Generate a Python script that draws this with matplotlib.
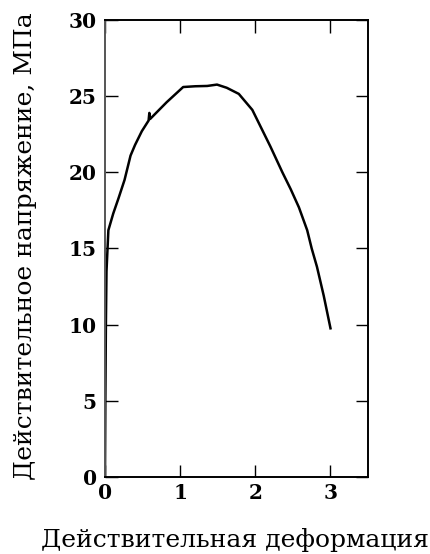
import numpy as np
import matplotlib.pyplot as plt

# true strain / true stress
deformacao = [0.0, 0.005, 0.012, 0.02, 0.045, 0.11, 0.18, 0.26, 0.30, 0.34, 0.40, 0.44, 0.49,
              0.58, 0.59, 0.60, 0.70, 0.82, 0.93, 1.04, 1.2, 1.36, 1.49, 1.62, 1.78,
              1.96, 2.08, 2.2, 2.36, 2.47, 2.58, 2.69, 2.75, 2.82, 2.91, 3.0]
tensao = [0.0, 5.0, 10.0, 13.5, 16.2, 17.3, 18.3, 19.5, 20.3, 21.1, 21.8, 22.2, 22.7,
          23.4, 23.9, 23.5, 24.0, 24.6, 25.1, 25.6, 25.65, 25.67, 25.76, 25.55, 25.15,
          24.1, 22.9, 21.7, 20.0, 18.9, 17.7, 16.2, 15.0, 13.8, 11.9, 9.76]

xticks = [0, 1, 2, 3]
yticks = [0, 5, 10, 15, 20, 25, 30]

plt.rcParams['font.family'] = ['DejaVu Serif']

fig = plt.figure(figsize=(4.31, 5.54), dpi=100)
ax = fig.add_axes([0.2436, 0.139, 0.6104, 0.8249])

ax.plot(deformacao, tensao, color='black', lw=1.8, solid_joinstyle='round')

ax.set_xlim(0, 3.5)
ax.set_ylim(0, 30)
ax.set_xticks(xticks)
ax.set_yticks(yticks)
ax.tick_params(direction='in', length=9, width=1.0, top=True, right=True,
               labelsize=14.5, pad=4)
ax.tick_params(axis='y', pad=6)
for lab in ax.get_xticklabels() + ax.get_yticklabels():
    lab.set_fontweight('bold')

for s in ax.spines.values():
    s.set_linewidth(1.4)
ax.spines['left'].set_color('#555555')

fig.text(0.545, 0.025, 'Действительная деформация', ha='center', va='center', fontsize=18)
fig.text(0.06, 0.555, 'Действительное напряжение, МПа', ha='center', va='center',
         rotation=90, fontsize=18)

fig.savefig('out.png', dpi=100)
